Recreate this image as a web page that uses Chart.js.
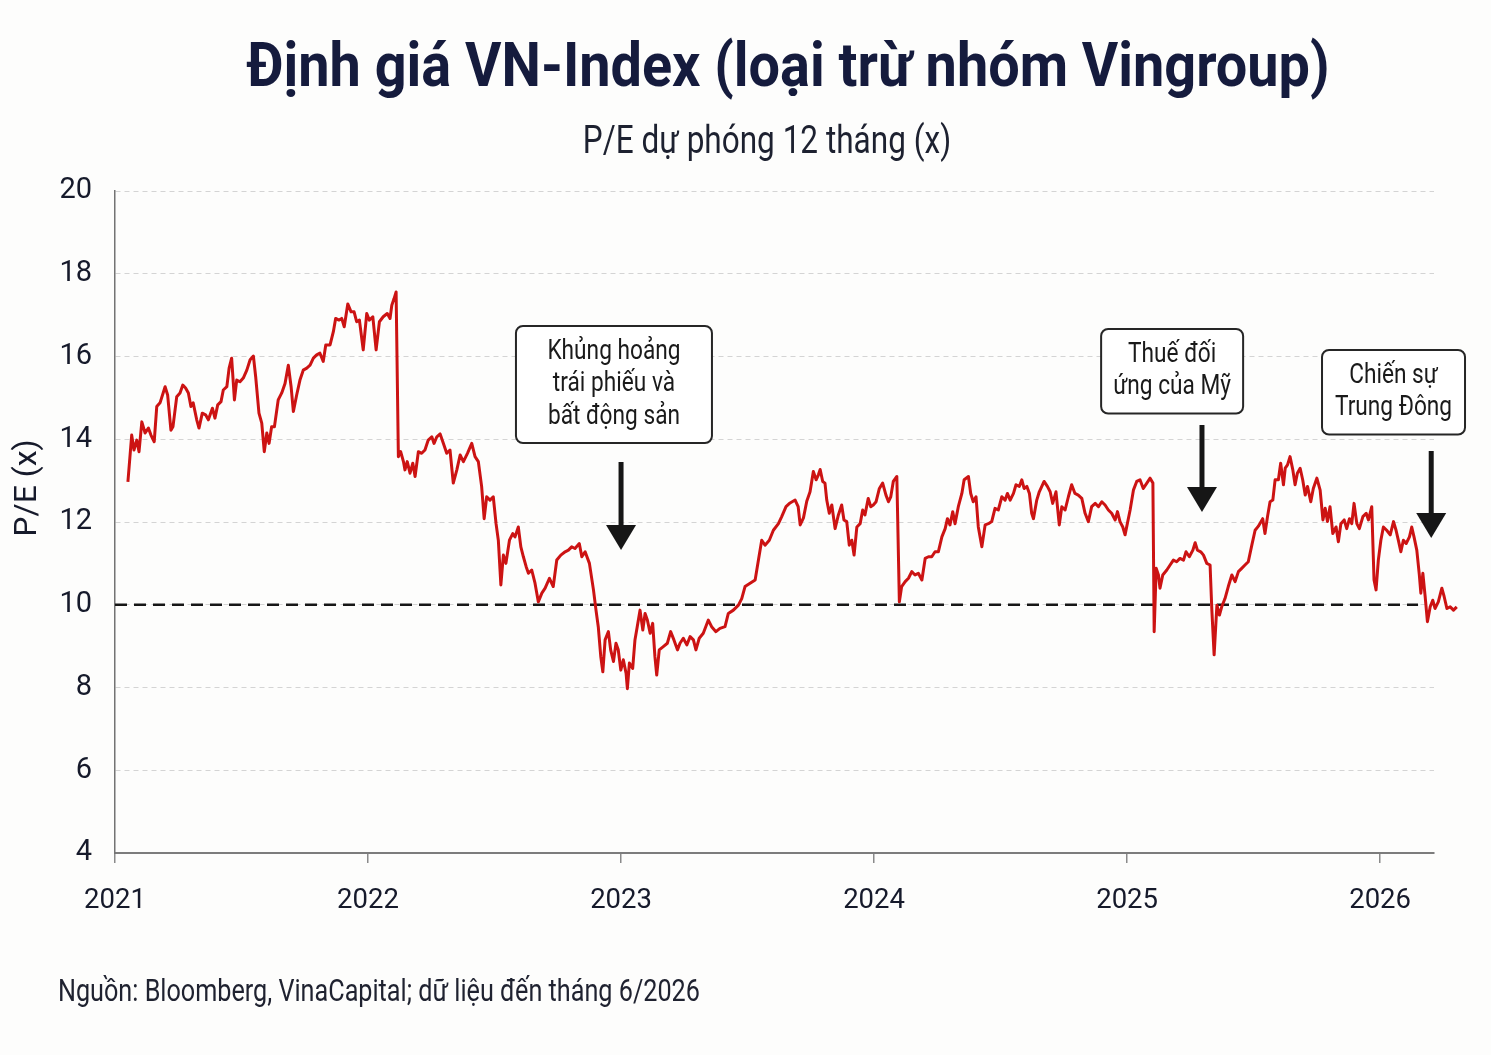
<!DOCTYPE html>
<html lang="vi">
<head>
<meta charset="utf-8">
<title>Định giá VN-Index (loại trừ nhóm Vingroup)</title>
<script src="https://cdn.jsdelivr.net/npm/chart.js@4.4.1/dist/chart.umd.min.js"></script>
<style>
  html, body { margin: 0; padding: 0; background: #fdfdfc; }
  #wrap { position: relative; width: 1491px; height: 1055px; overflow: hidden; background: #fdfdfc; }
  #c { position: absolute; left: 0; top: 0; }
  .t { position: absolute; white-space: nowrap; line-height: 1; font-family: Roboto, 'Liberation Sans', sans-serif; }
  #title { left: 788px; top: 34px; transform: translateX(-50%) scaleX(0.9); transform-origin: 50% 50%; font-size: 62px; font-weight: bold; color: #151b3d; }
  #subtitle { left: 767px; top: 121px; transform: translateX(-50%) scaleX(0.83); transform-origin: 50% 50%; font-size: 38px; color: #1d2130; }
  #footer { left: 58px; top: 976px; transform: scaleX(0.826); transform-origin: 0 50%; font-size: 30.5px; color: #1f2230; }
</style>
</head>
<body>
<div id="wrap">
  <canvas id="c" width="1491" height="1055"></canvas>
  <div class="t" id="title">Định giá VN-Index (loại trừ nhóm Vingroup)</div>
  <div class="t" id="subtitle">P/E dự phóng 12 tháng (x)</div>
  <div class="t" id="footer">Nguồn: Bloomberg, VinaCapital; dữ liệu đến tháng 6/2026</div>
</div>
<script>
// ---- Data: [fractional year, forward P/E] ----
const pe2021 = [[2021.051,12.97],[2021.066,14.10],[2021.075,13.74],[2021.086,13.98],[2021.095,13.70],[2021.106,14.42],[2021.119,14.15],[2021.132,14.27],[2021.142,14.10],[2021.155,13.94],[2021.165,14.79],[2021.178,14.88],[2021.198,15.27],[2021.208,15.07],[2021.221,14.22],[2021.229,14.30],[2021.244,15.03],[2021.257,15.12],[2021.268,15.31],[2021.279,15.24],[2021.290,15.12],[2021.300,14.79],[2021.309,14.88],[2021.323,14.47],[2021.332,14.27],[2021.345,14.63],[2021.358,14.59],[2021.369,14.47],[2021.385,14.75],[2021.395,14.51],[2021.406,14.83],[2021.419,14.91],[2021.428,15.19],[2021.442,15.27],[2021.451,15.72],[2021.461,15.96],[2021.472,14.95],[2021.481,15.43],[2021.494,15.39],[2021.507,15.48],[2021.521,15.67],[2021.534,15.92],[2021.547,16.01],[2021.556,15.51],[2021.569,14.63],[2021.580,14.39],[2021.590,13.70],[2021.600,14.15],[2021.609,13.90],[2021.619,14.30],[2021.630,14.30],[2021.645,14.95],[2021.659,15.12],[2021.672,15.35],[2021.685,15.79],[2021.696,15.27],[2021.705,14.67],[2021.718,15.07],[2021.731,15.43],[2021.744,15.67],[2021.758,15.72],[2021.771,15.79],[2021.784,15.96],[2021.797,16.04],[2021.810,16.08],[2021.823,15.88],[2021.833,16.28],[2021.850,16.28],[2021.863,16.60],[2021.872,16.92],[2021.885,16.88],[2021.896,16.92],[2021.906,16.72],[2021.920,17.27],[2021.933,17.08],[2021.945,17.08],[2021.955,16.84],[2021.966,16.88],[2021.981,16.16],[2021.995,17.04]];
const pe2022 = [[2022.005,16.88],[2022.019,16.96],[2022.032,16.16],[2022.045,16.84],[2022.060,16.96],[2022.076,17.04],[2022.087,16.92],[2022.094,17.24],[2022.103,17.40],[2022.111,17.56],[2022.120,13.58],[2022.129,13.70],[2022.140,13.46],[2022.146,13.26],[2022.155,13.46],[2022.166,13.18],[2022.177,13.42],[2022.186,13.10],[2022.199,13.70],[2022.212,13.66],[2022.225,13.74],[2022.238,13.98],[2022.252,14.06],[2022.261,13.90],[2022.272,14.06],[2022.285,14.13],[2022.298,13.90],[2022.311,13.66],[2022.324,13.74],[2022.337,12.94],[2022.351,13.26],[2022.364,13.62],[2022.377,13.46],[2022.393,13.66],[2022.410,13.90],[2022.423,13.58],[2022.436,13.46],[2022.449,12.86],[2022.459,12.08],[2022.469,12.61],[2022.482,12.53],[2022.495,12.61],[2022.506,11.96],[2022.515,11.56],[2022.525,10.48],[2022.535,11.20],[2022.545,11.00],[2022.559,11.56],[2022.572,11.72],[2022.581,11.64],[2022.594,11.88],[2022.604,11.40],[2022.614,11.16],[2022.625,10.92],[2022.634,10.76],[2022.647,10.84],[2022.660,10.52],[2022.673,10.07],[2022.687,10.28],[2022.700,10.40],[2022.717,10.64],[2022.732,10.44],[2022.746,11.08],[2022.762,11.20],[2022.779,11.28],[2022.792,11.32],[2022.805,11.40],[2022.818,11.36],[2022.835,11.48],[2022.845,11.16],[2022.858,11.28],[2022.875,11.00],[2022.891,10.36],[2022.901,9.87],[2022.910,9.47],[2022.920,8.74],[2022.928,8.38],[2022.937,9.15],[2022.950,9.35],[2022.959,8.91],[2022.970,8.63],[2022.980,9.07],[2022.989,8.91],[2022.999,8.42]];
const pe2023 = [[2023.009,8.67],[2023.020,8.34],[2023.025,7.97],[2023.033,8.59],[2023.046,8.46],[2023.055,9.15],[2023.064,9.47],[2023.075,9.87],[2023.086,9.39],[2023.095,9.79],[2023.104,9.63],[2023.115,9.31],[2023.125,9.55],[2023.134,8.74],[2023.141,8.30],[2023.151,8.91],[2023.167,8.99],[2023.183,9.07],[2023.196,9.35],[2023.209,9.15],[2023.223,8.91],[2023.233,9.07],[2023.246,9.19],[2023.260,9.03],[2023.273,9.23],[2023.286,9.15],[2023.296,8.91],[2023.309,9.19],[2023.325,9.31],[2023.345,9.63],[2023.358,9.47],[2023.375,9.35],[2023.391,9.43],[2023.411,9.47],[2023.424,9.79],[2023.444,9.87],[2023.464,9.99],[2023.477,10.15],[2023.490,10.44],[2023.510,10.52],[2023.530,10.60],[2023.543,11.08],[2023.556,11.56],[2023.569,11.44],[2023.586,11.56],[2023.602,11.80],[2023.622,11.96],[2023.635,12.13],[2023.652,12.37],[2023.668,12.46],[2023.688,12.53],[2023.700,12.37],[2023.708,11.93],[2023.721,12.10],[2023.734,12.50],[2023.747,12.73],[2023.760,13.22],[2023.771,13.02],[2023.780,13.14],[2023.787,13.27],[2023.797,12.98],[2023.806,12.94],[2023.813,12.53],[2023.823,12.21],[2023.833,12.41],[2023.846,11.84],[2023.859,12.17],[2023.872,12.41],[2023.881,12.05],[2023.892,12.01],[2023.902,11.44],[2023.912,11.56],[2023.921,11.20],[2023.932,11.88],[2023.945,11.96],[2023.955,12.29],[2023.964,12.17],[2023.977,12.57],[2023.987,12.37],[2023.997,12.41]];
const pe2024 = [[2024.008,12.49],[2024.021,12.81],[2024.034,12.94],[2024.047,12.65],[2024.057,12.49],[2024.066,12.61],[2024.076,12.98],[2024.090,13.10],[2024.100,10.07],[2024.109,10.44],[2024.123,10.56],[2024.136,10.64],[2024.149,10.80],[2024.162,10.72],[2024.175,10.76],[2024.189,10.60],[2024.202,11.12],[2024.215,11.16],[2024.228,11.16],[2024.241,11.28],[2024.254,11.28],[2024.268,11.64],[2024.281,11.84],[2024.290,12.08],[2024.300,11.93],[2024.311,12.25],[2024.320,11.96],[2024.333,12.37],[2024.347,12.69],[2024.356,13.02],[2024.373,13.10],[2024.382,12.69],[2024.392,12.49],[2024.403,12.61],[2024.412,11.88],[2024.426,11.40],[2024.439,11.93],[2024.452,11.96],[2024.465,12.01],[2024.478,12.33],[2024.491,12.29],[2024.505,12.61],[2024.518,12.53],[2024.527,12.69],[2024.538,12.53],[2024.551,12.69],[2024.561,12.90],[2024.574,12.86],[2024.584,13.02],[2024.593,12.81],[2024.604,12.86],[2024.614,12.69],[2024.623,12.21],[2024.630,12.08],[2024.643,12.53],[2024.653,12.73],[2024.672,12.98],[2024.685,12.86],[2024.696,12.73],[2024.706,12.45],[2024.719,12.73],[2024.732,11.93],[2024.742,12.37],[2024.755,12.29],[2024.768,12.61],[2024.781,12.90],[2024.794,12.69],[2024.807,12.65],[2024.821,12.57],[2024.834,12.21],[2024.847,12.01],[2024.860,12.37],[2024.874,12.45],[2024.887,12.37],[2024.900,12.49],[2024.913,12.41],[2024.926,12.29],[2024.939,12.21],[2024.953,12.05],[2024.962,12.25],[2024.972,12.01],[2024.983,11.88],[2024.992,11.69]];
const pe2025 = [[2025.001,11.96],[2025.012,12.29],[2025.025,12.77],[2025.038,12.98],[2025.051,13.02],[2025.064,12.81],[2025.078,12.94],[2025.091,13.06],[2025.102,12.94],[2025.107,9.35],[2025.115,10.88],[2025.124,10.72],[2025.130,10.40],[2025.141,10.72],[2025.157,10.84],[2025.170,10.96],[2025.183,11.08],[2025.196,11.04],[2025.209,11.12],[2025.223,11.08],[2025.233,11.28],[2025.246,11.16],[2025.260,11.32],[2025.269,11.50],[2025.278,11.32],[2025.291,11.28],[2025.302,11.20],[2025.315,11.00],[2025.328,10.96],[2025.335,9.87],[2025.344,8.79],[2025.355,9.99],[2025.365,9.75],[2025.374,9.95],[2025.387,10.15],[2025.400,10.44],[2025.414,10.72],[2025.427,10.56],[2025.440,10.80],[2025.453,10.88],[2025.466,10.96],[2025.479,11.04],[2025.493,11.44],[2025.506,11.80],[2025.519,11.90],[2025.536,12.08],[2025.545,11.72],[2025.555,12.13],[2025.565,12.49],[2025.576,12.53],[2025.585,13.02],[2025.598,13.02],[2025.607,13.42],[2025.618,12.90],[2025.625,13.30],[2025.634,13.38],[2025.644,13.58],[2025.655,13.26],[2025.664,12.90],[2025.673,13.18],[2025.684,13.30],[2025.694,13.02],[2025.704,12.65],[2025.713,12.86],[2025.726,12.49],[2025.736,12.81],[2025.750,13.06],[2025.763,12.77],[2025.774,12.05],[2025.783,12.33],[2025.792,12.01],[2025.802,12.37],[2025.813,11.72],[2025.826,11.88],[2025.835,11.52],[2025.845,11.96],[2025.858,12.05],[2025.868,11.84],[2025.879,12.08],[2025.888,11.96],[2025.897,12.45],[2025.908,11.96],[2025.918,11.84],[2025.932,12.13],[2025.945,12.21],[2025.954,12.05],[2025.967,12.37],[2025.976,10.60],[2025.984,10.36],[2025.993,11.08]];
const pe2026 = [[2026.003,11.56],[2026.013,11.88],[2026.026,11.80],[2026.040,11.69],[2026.053,12.01],[2026.063,11.80],[2026.072,11.56],[2026.082,11.28],[2026.092,11.56],[2026.103,11.48],[2026.116,11.64],[2026.125,11.88],[2026.134,11.64],[2026.145,11.32],[2026.155,10.72],[2026.161,10.28],[2026.169,10.76],[2026.178,10.20],[2026.187,9.59],[2026.198,9.95],[2026.208,10.11],[2026.217,9.91],[2026.230,10.07],[2026.244,10.40],[2026.253,10.20],[2026.264,9.91],[2026.277,9.95],[2026.290,9.87],[2026.303,9.95]];

const refLevel = 10;                 // dashed reference P/E
const refSpan = [2021, 2026.15];     // years covered by the dashed line
const xRange = [2021, 2026.213];
const yearTicks = [2021, 2022, 2023, 2024, 2025, 2026];
const peTicks = [4, 6, 8, 10, 12, 14, 16, 18, 20];
const yAxisTitle = 'P/E (x)';

const noteLines = [
  ['Khủng hoảng', 'trái phiếu và', 'bất động sản'],
  ['Thuế đối', 'ứng của Mỹ'],
  ['Chiến sự', 'Trung Đông']
];
const noteBoxX = [2022.972, 2025.178, 2026.053];   // box centre (year)
const noteBoxTop = [16.737, 16.665, 16.157];       // box top (P/E)
const noteArrowX = [2023.000, 2025.296, 2026.202];
const noteArrowFrom = [13.45, 14.344, 13.716];
const noteArrowTo = [11.323, 12.242, 11.613];

// ---- build ----
const FONT = "Roboto, 'Liberation Sans', sans-serif";
Chart.defaults.font.family = FONT;

const peSeries = [].concat(pe2021, pe2022, pe2023, pe2024, pe2025, pe2026).map(p => ({x: p[0], y: p[1]}));

const notesPlugin = {
  id: 'notes',
  afterDraw(chart, args, o) {
    const {ctx, chartArea} = chart;
    // rotated y-axis title (placed a little above the axis centre, as in the source)
    ctx.save();
    ctx.translate(o.yTitleX, chartArea.top + o.yTitleFromTop);
    ctx.rotate(-Math.PI / 2);
    ctx.font = o.yTitleFont;
    ctx.fillStyle = o.yTitleColor;
    ctx.textAlign = 'center';
    ctx.textBaseline = 'middle';
    ctx.fillText(yAxisTitle, 0, 0);
    ctx.restore();
  },
  afterDatasetsDraw(chart, args, o) {
    const {ctx} = chart;
    const xs = chart.scales.x, ys = chart.scales.y;
    ctx.save();
    noteLines.forEach((lines, i) => {
      // arrow
      const ax = xs.getPixelForValue(noteArrowX[i]);
      const a1 = ys.getPixelForValue(noteArrowFrom[i]);
      const a2 = ys.getPixelForValue(noteArrowTo[i]);
      ctx.strokeStyle = o.arrowColor;
      ctx.fillStyle = o.arrowColor;
      ctx.lineWidth = o.shaftWidth;
      ctx.lineCap = 'butt';
      ctx.beginPath();
      ctx.moveTo(ax, a1);
      ctx.lineTo(ax, a2 - o.headLength + 2);
      ctx.stroke();
      ctx.beginPath();
      ctx.moveTo(ax - o.headWidth / 2, a2 - o.headLength);
      ctx.lineTo(ax + o.headWidth / 2, a2 - o.headLength);
      ctx.lineTo(ax, a2);
      ctx.closePath();
      ctx.fill();
      // box
      const cx = xs.getPixelForValue(noteBoxX[i]);
      const top = ys.getPixelForValue(noteBoxTop[i]);
      const w = o.widths[i];
      const h = (lines.length - 1) * o.lineHeight + o.pad * 2;
      const left = cx - w / 2;
      ctx.beginPath();
      ctx.roundRect(left, top, w, h, o.radius);
      ctx.fillStyle = o.boxFill;
      ctx.fill();
      ctx.lineWidth = o.borderWidth;
      ctx.strokeStyle = o.borderColor;
      ctx.stroke();
      ctx.fillStyle = o.textColor;
      ctx.font = o.font;
      ctx.textAlign = 'center';
      ctx.textBaseline = 'middle';
      lines.forEach((s, j) => {
        ctx.save();
        ctx.translate(cx, top + o.pad + j * o.lineHeight);
        ctx.scale(o.textSqueeze, 1);
        ctx.fillText(s, 0, 0);
        ctx.restore();
      });
    });
    ctx.restore();
  }
};

new Chart(document.getElementById('c'), {
  type: 'line',
  data: {
    datasets: [
      {
        label: 'P/E dự phóng 12 tháng',
        data: peSeries,
        borderColor: '#cc1313',
        borderWidth: 3,
        pointRadius: 0,
        tension: 0,
        borderJoinStyle: 'round',
        clip: false,
        order: 0
      },
      {
        label: 'Mốc 10x',
        data: [{x: refSpan[0], y: refLevel}, {x: refSpan[1], y: refLevel}],
        borderColor: '#161616',
        borderWidth: 2.6,
        borderDash: [12, 7],
        pointRadius: 0,
        order: 1
      }
    ]
  },
  options: {
    responsive: false,
    animation: false,
    layout: { padding: { left: 0, right: 57, top: 191, bottom: 102 } },
    plugins: {
      legend: { display: false },
      tooltip: { enabled: false },
      title: { display: false },
      notes: {
        widths: [196, 142, 143],
        lineHeight: 32.5,
        pad: 26,
        radius: 7,
        boxFill: '#ffffff',
        borderColor: '#262626',
        borderWidth: 2,
        textColor: '#1a1a1a',
        font: "27px " + FONT,
        textSqueeze: 0.84,
        arrowColor: '#161616',
        shaftWidth: 5,
        headWidth: 30,
        headLength: 25,
        yTitleX: 28,
        yTitleFromTop: 297,
        yTitleFont: "32px " + FONT,
        yTitleColor: '#161a2b'
      }
    },
    scales: {
      x: {
        type: 'linear',
        bounds: 'data',
        afterDataLimits: s => { s.min = xRange[0]; s.max = xRange[1]; },
        afterBuildTicks: s => { s.ticks = yearTicks.map(v => ({value: v})); },
        afterFit: s => { s.height = 100; },
        grid: { display: true, drawOnChartArea: false, drawTicks: true, tickLength: 10, color: '#8a8a8a', lineWidth: 1.5 },
        border: { display: true, color: '#7c7c7c', width: 2 },
        ticks: { font: { size: 27.5 }, color: '#161a2b', padding: 22, maxRotation: 0, autoSkip: false, callback: v => String(v) }
      },
      y: {
        type: 'linear',
        min: 4,
        max: 20,
        afterBuildTicks: s => { s.ticks = peTicks.map(v => ({value: v})); },
        afterFit: s => { s.width = 115; },
        grid: { color: '#d4d4d4', lineWidth: 1, drawTicks: false },
        border: { display: true, color: '#737373', width: 1.5, dash: [5, 4] },
        ticks: { font: { size: 29 }, color: '#161a2b', padding: 23, callback: v => String(v) },
        title: { display: false }
      }
    }
  },
  plugins: [notesPlugin]
});
</script>
</body>
</html>
